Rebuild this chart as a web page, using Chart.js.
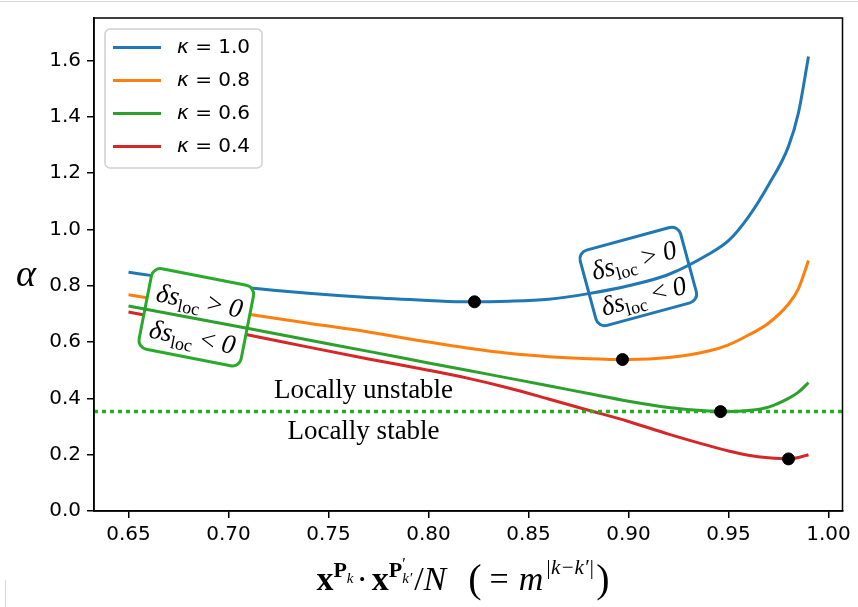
<!DOCTYPE html>
<html lang="en">
<head>
<meta charset="utf-8" />
<title>alpha vs pattern overlap</title>
<style>
  * { margin: 0; padding: 0; }
  body { background: #fff; }
  #chartBox { width: 858px; height: 607px; }
</style>
</head>
<body>
<div id="chartBox"><canvas id="myChart" width="858" height="607"></canvas></div>
<script src="https://cdn.jsdelivr.net/npm/chart.js"></script>
<script>
// data block
const overlap = [0.65, 0.68, 0.71, 0.74, 0.77, 0.80, 0.82, 0.84, 0.86, 0.88, 0.90, 0.92, 0.94, 0.95, 0.96, 0.97, 0.98, 0.985, 0.99];
const alphaK10 = [0.848, 0.818, 0.793, 0.773, 0.758, 0.748, 0.743, 0.745, 0.752, 0.772, 0.800, 0.840, 0.912, 0.960, 1.045, 1.158, 1.295, 1.415, 1.614];
const alphaK08 = [0.768, 0.733, 0.699, 0.667, 0.636, 0.600, 0.578, 0.560, 0.548, 0.541, 0.538, 0.545, 0.568, 0.590, 0.625, 0.667, 0.735, 0.790, 0.890];
const alphaK06 = [0.728, 0.688, 0.648, 0.607, 0.567, 0.526, 0.499, 0.472, 0.445, 0.417, 0.390, 0.368, 0.355, 0.353, 0.357, 0.369, 0.400, 0.422, 0.456];
const alphaK04 = [0.707, 0.666, 0.625, 0.582, 0.540, 0.500, 0.471, 0.437, 0.398, 0.358, 0.318, 0.273, 0.232, 0.213, 0.198, 0.189, 0.185, 0.190, 0.200];
const kappas = ["1.0", "0.8", "0.6", "0.4"];
const minOverlap = [0.823, 0.897, 0.946, 0.980];
const minAlpha = [0.743, 0.538, 0.353, 0.185];
const thresholdAlpha = 0.353;
const xTicks = [0.65, 0.70, 0.75, 0.80, 0.85, 0.90, 0.95, 1.00];
const yTicks = [0.0, 0.2, 0.4, 0.6, 0.8, 1.0, 1.2, 1.4, 1.6];
const xMin = 0.63275, xMax = 1.007, yMin = 0, yMax = 1.751;

const colors = ["#1f77b4", "#ff7f0e", "#2ca02c", "#d62728"];
const series = [alphaK10, alphaK08, alphaK06, alphaK04];
const drawOrder = [1, 2, 0, 3]; // green on top, red at the bottom

const SERIF = '"Liberation Serif"';
const SANS = '"DejaVu Sans"';

const datasets = series.map((vals, i) => ({
  label: "κ = " + kappas[i],
  data: overlap.map((x, j) => ({ x: x, y: vals[j] })),
  borderColor: colors[i],
  borderWidth: 3,
  pointRadius: 0,
  fill: false,
  cubicInterpolationMode: "monotone",
  order: drawOrder[i],
}));
datasets.push({
  label: "threshold",
  data: [{ x: xMin, y: thresholdAlpha }, { x: xMax, y: thresholdAlpha }],
  borderColor: "#22b022",
  borderWidth: 3.5,
  borderDash: [4, 4],
  borderCapStyle: "butt",
  pointRadius: 0,
  order: -1,
});
datasets.push({
  type: "scatter",
  label: "minima",
  data: minOverlap.map((x, i) => ({ x: x, y: minAlpha[i] })),
  backgroundColor: "#000",
  borderColor: "#000",
  pointRadius: 6,
  showLine: false,
  order: -2,
});

// text pieces
function richWidth(ctx, pieces) {
  let w = 0;
  for (const p of pieces) {
    ctx.font = p.f;
    if (!p.stay) w += ctx.measureText(p.t).width + (p.gap || 0);
  }
  return w;
}
function drawRich(ctx, pieces, cx, baseY) {
  let x = cx - richWidth(ctx, pieces) / 2;
  for (const p of pieces) {
    ctx.font = p.f;
    ctx.fillText(p.t, x, baseY + (p.dy || 0));
    if (!p.stay) x += ctx.measureText(p.t).width + (p.gap || 0);
  }
}
function noteLine(sign) {
  return [
    { t: "δs", f: "italic 27px " + SERIF },
    { t: "loc", f: "18px " + SERIF, dy: 6 },
    { t: " " + sign + " ", f: "27px " + SERIF },
    { t: "0", f: "italic 27px " + SERIF },
  ];
}

// note boxes, in data coordinates
const blueNote = { x: 0.9049, y: 0.833, angle: -15.2, w: 104, h: 78, color: "#1f77b4" };
const greenNote = { x: 0.6839, y: 0.688, angle: 11.1, w: 104, h: 82, color: "#2aaa2a" };

function drawNoteBox(chart, note) {
  const ctx = chart.ctx;
  const cx = chart.scales.x.getPixelForValue(note.x);
  const cy = chart.scales.y.getPixelForValue(note.y);
  ctx.save();
  ctx.translate(cx, cy);
  ctx.rotate((note.angle * Math.PI) / 180);
  ctx.beginPath();
  ctx.roundRect(-note.w / 2, -note.h / 2, note.w, note.h, 9);
  ctx.fillStyle = "#fff";
  ctx.fill();
  ctx.lineWidth = 3;
  ctx.strokeStyle = note.color;
  ctx.stroke();
  ctx.fillStyle = "#000";
  ctx.textBaseline = "alphabetic";
  ctx.textAlign = "left";
  drawRich(ctx, noteLine(">"), 0, -8);
  drawRich(ctx, noteLine("<"), 0, 29);
  ctx.restore();
}

const extras = {
  id: "extras",
  beforeDatasetDraw(chart, args) {
    if (args.index === 0) drawNoteBox(chart, blueNote);
    if (args.index === 2) drawNoteBox(chart, greenNote);
  },
  afterDatasetsDraw(chart) {
    const ctx = chart.ctx;
    const xs = chart.scales.x, ys = chart.scales.y;
    ctx.save();
    ctx.fillStyle = "#000";
    ctx.font = "27px " + SERIF;
    ctx.textAlign = "center";
    ctx.textBaseline = "alphabetic";
    ctx.fillText("Locally unstable", xs.getPixelForValue(0.7675), ys.getPixelForValue(0.40));
    ctx.fillText("Locally stable", xs.getPixelForValue(0.7675), ys.getPixelForValue(0.256));
    ctx.restore();
  },
  afterDraw(chart) {
    const ctx = chart.ctx;
    const ca = chart.chartArea;
    ctx.save();
    // frame
    ctx.strokeStyle = "#000";
    ctx.lineWidth = 1.5;
    ctx.strokeRect(ca.left, ca.top, ca.right - ca.left, ca.bottom - ca.top);

    // legend
    const lx = ca.left + 11, ly = ca.top + 11;
    ctx.beginPath();
    ctx.roundRect(lx, ly, 157, 139, 5);
    ctx.fillStyle = "rgba(255,255,255,0.8)";
    ctx.fill();
    ctx.strokeStyle = "#d0d0d0";
    ctx.lineWidth = 1.5;
    ctx.stroke();
    ctx.textBaseline = "middle";
    ctx.textAlign = "left";
    kappas.forEach((k, i) => {
      const y = ly + 18.5 + i * 33;
      ctx.strokeStyle = colors[i];
      ctx.lineWidth = 3;
      ctx.beginPath();
      ctx.moveTo(lx + 8, y);
      ctx.lineTo(lx + 56, y);
      ctx.stroke();
      ctx.fillStyle = "#000";
      ctx.font = "italic 20px " + SANS;
      ctx.fillText("κ", lx + 72, y);
      const kw = ctx.measureText("κ").width;
      ctx.font = "20px " + SANS;
      ctx.fillText(" = " + k, lx + 72 + kw, y);
    });

    // y label
    ctx.fillStyle = "#000";
    ctx.textAlign = "center";
    ctx.font = "italic 38px " + SERIF;
    ctx.fillText("α", 26, 276);

    // x label
    ctx.textAlign = "left";
    ctx.textBaseline = "alphabetic";
    const xl = [
      { t: "x", f: "bold 34px " + SERIF },
      { t: "P", f: "bold 22px " + SERIF, dy: -13 },
      { t: "k", f: "italic 15px " + SERIF, dy: -7, gap: 3 },
      { t: "·", f: "34px " + SERIF, gap: 4 },
      { t: "x", f: "bold 34px " + SERIF },
      { t: "P", f: "bold 22px " + SERIF, dy: -13 },
      { t: "′", f: "16px " + SERIF, dy: -21, stay: true },
      { t: "k′", f: "italic 15px " + SERIF, dy: -7, gap: 2 },
      { t: "/", f: "34px " + SERIF },
      { t: "N", f: "italic 34px " + SERIF, gap: 22 },
      { t: "(", f: "40px " + SERIF, dy: 2, gap: 8 },
      { t: "=", f: "34px " + SERIF, gap: 10 },
      { t: "m", f: "italic 34px " + SERIF, gap: 2 },
      { t: "|k−k′|", f: "italic 21px " + SERIF, dy: -16, gap: 2 },
      { t: ")", f: "40px " + SERIF, dy: 2 },
    ];
    drawRich(ctx, xl, 463, 590);

    // thin grey edge of the original screenshot
    ctx.strokeStyle = "#d8d8d8";
    ctx.lineWidth = 1;
    ctx.beginPath();
    ctx.moveTo(0, 1.5);
    ctx.lineTo(858, 1.5);
    ctx.moveTo(5.5, 580);
    ctx.lineTo(5.5, 607);
    ctx.stroke();
    ctx.restore();
  },
};

// config block
const config = {
  type: "line",
  data: { datasets: datasets },
  options: {
    responsive: false,
    animation: false,
    devicePixelRatio: 1,
    layout: { padding: { top: 14, right: 15.5, left: 0, bottom: 0 } },
    plugins: { legend: { display: false }, tooltip: { enabled: false } },
    scales: {
      x: {
        type: "linear",
        min: xMin,
        max: xMax,
        afterBuildTicks: (s) => { s.ticks = xTicks.map((v) => ({ value: v })); },
        afterFit: (s) => { s.height = 96; },
        grid: { drawOnChartArea: false, drawTicks: true, tickLength: 7, color: "#000", lineWidth: 1.5 },
        border: { display: true, color: "#000", width: 1.5 },
        ticks: {
          padding: 5,
          color: "#000",
          font: { family: "DejaVu Sans", size: 20 },
          maxRotation: 0,
          callback: (v) => v.toFixed(2),
        },
      },
      y: {
        type: "linear",
        min: yMin,
        max: yMax,
        afterBuildTicks: (s) => { s.ticks = yTicks.map((v) => ({ value: v })); },
        afterFit: (s) => { s.width = 94; },
        grid: { drawOnChartArea: false, drawTicks: true, tickLength: 7, color: "#000", lineWidth: 1.5 },
        border: { display: true, color: "#000", width: 1.5 },
        ticks: {
          padding: 6,
          color: "#000",
          font: { family: "DejaVu Sans", size: 20 },
          callback: (v) => v.toFixed(1),
        },
      },
    },
  },
  plugins: [extras],
};

// init render block
const myChart = new Chart(document.getElementById("myChart"), config);
</script>
</body>
</html>
